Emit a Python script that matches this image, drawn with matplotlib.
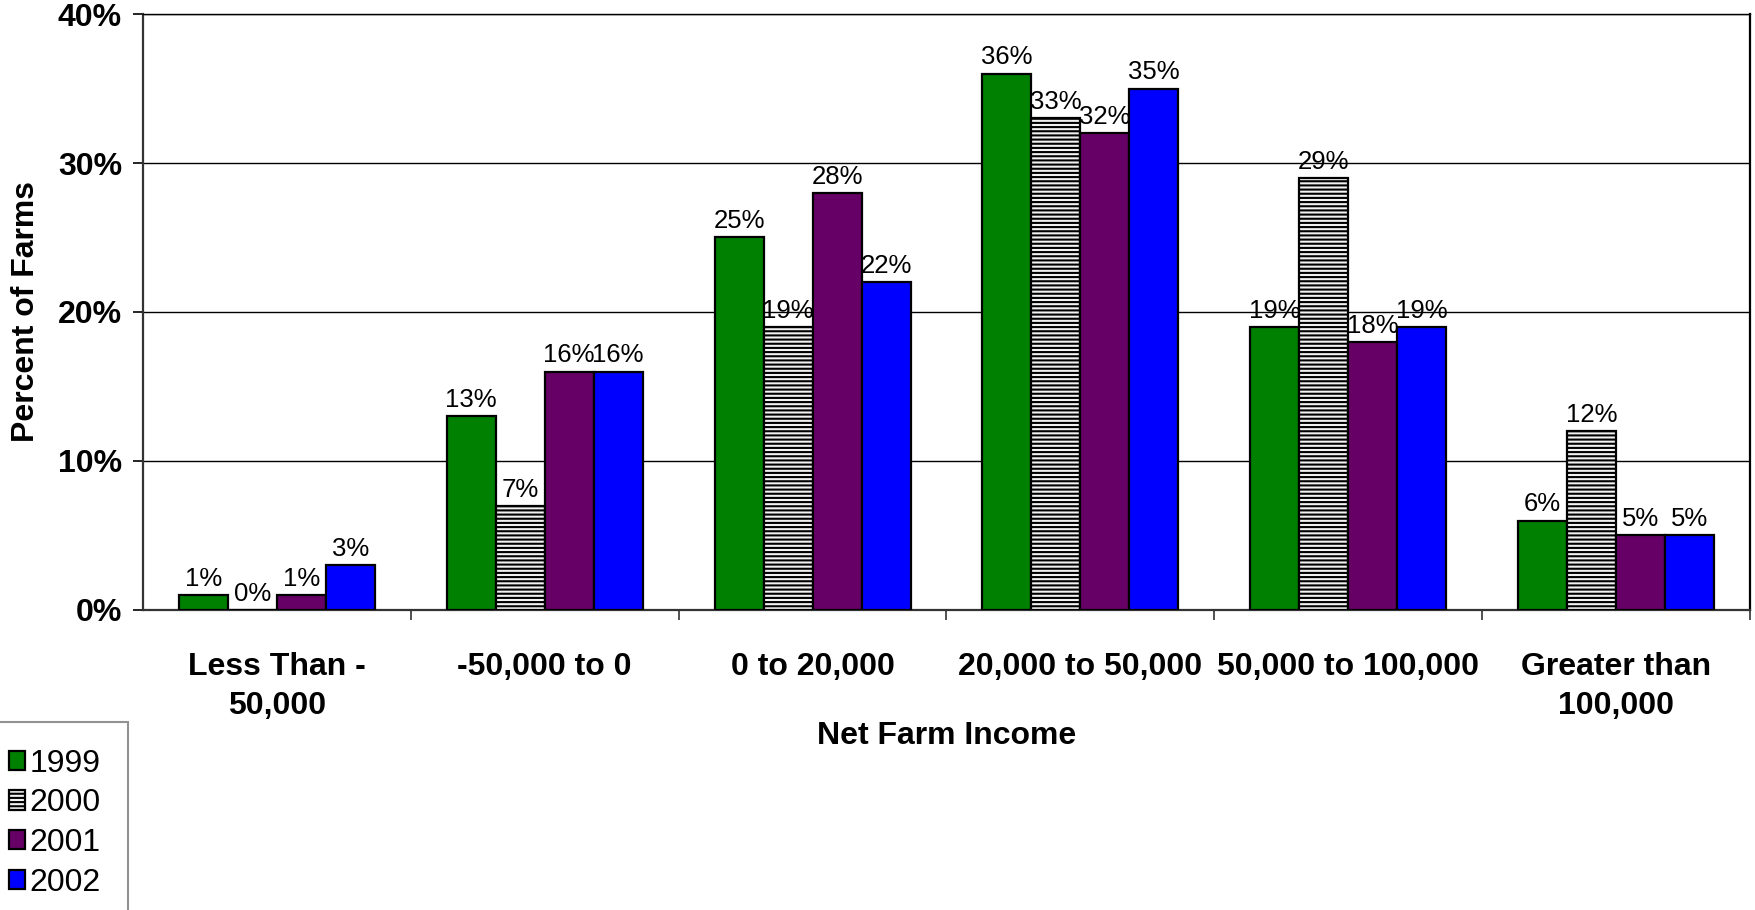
import matplotlib
matplotlib.use("Agg")
import matplotlib.pyplot as plt
import numpy as np
from matplotlib.patches import Patch

plt.rcParams['font.family'] = ['Liberation Sans', 'DejaVu Sans']
plt.rcParams['hatch.linewidth'] = 1.5
plt.rcParams['hatch.color'] = '#777777'

categories = ["Less Than -\n50,000", "-50,000 to 0", "0 to 20,000",
              "20,000 to 50,000", "50,000 to 100,000", "Greater than\n100,000"]
years = ["1999", "2000", "2001", "2002"]
pct_1999 = [1, 13, 25, 36, 19, 6]
pct_2000 = [0, 7, 19, 33, 29, 12]
pct_2001 = [1, 16, 28, 32, 18, 5]
pct_2002 = [3, 16, 22, 35, 19, 5]
series = [pct_1999, pct_2000, pct_2001, pct_2002]

face_colors = ["#008000", "#f2f2f2", "#660066", "#0000ff"]
hatches = [None, "----", None, None]

fig = plt.figure(figsize=(17.56, 9.10), dpi=100)
ax = fig.add_axes([0.0814, 0.3297, 0.9152, 0.6549])

x = np.arange(len(categories))
bw = 0.183
for i, (vals, fc, h) in enumerate(zip(series, face_colors, hatches)):
    pos = x + (i - 1.5) * bw
    ax.bar(pos, vals, width=bw, color=fc, edgecolor='black', linewidth=1.6,
           hatch=h, zorder=3)
    for px, v in zip(pos, vals):
        ax.annotate(f"{v}%", (px, v), xytext=(0, 3), textcoords='offset points',
                    ha='center', va='bottom', fontsize=18.5, zorder=4)

ax.set_xlim(-0.5, len(categories) - 0.5)
ax.set_ylim(0, 40)
ax.set_yticks([0, 10, 20, 30, 40])
ax.set_yticklabels([f"{t}%" for t in [0, 10, 20, 30, 40]], fontsize=23, fontweight='bold')
ax.yaxis.grid(True, color='black', linewidth=1.0, zorder=0)
ax.tick_params(axis='y', length=7, width=1.2, pad=8)

ax.set_xticks(x)
ax.set_xticklabels(categories, fontsize=23, fontweight='bold', linespacing=1.4)
ax.tick_params(axis='x', which='major', length=0, pad=30)
ax.set_xticks(np.arange(0.5, len(categories) - 0.5 + 1, 1), minor=True)
ax.tick_params(axis='x', which='minor', length=7, width=1.2, color='#333333')

for side in ['left', 'bottom']:
    ax.spines[side].set_color('#333333')
    ax.spines[side].set_linewidth(1.6)
ax.spines['right'].set_color('black')
ax.spines['right'].set_linewidth(1.6)
ax.spines['top'].set_color('black')
ax.spines['top'].set_linewidth(1.0)

ax.set_xlabel("Net Farm Income", fontsize=23, fontweight='bold', labelpad=0)
ax.set_ylabel("Percent of Farms", fontsize=23, fontweight='bold', labelpad=12)

handles = [Patch(facecolor=fc, edgecolor='black', linewidth=1.6, hatch=h)
           for fc, h in zip(face_colors, hatches)]
leg = fig.legend(handles, years, loc='upper left', bbox_to_anchor=(-0.0103, 0.207),
                 fontsize=23, frameon=True, fancybox=False, handlelength=0.5,
                 handleheight=0.55, handletextpad=0.15, labelspacing=0.3,
                 borderpad=0.85, borderaxespad=0)
leg.get_frame().set_edgecolor('#777777')
leg.get_frame().set_linewidth(1.5)

fig.savefig("out.png", dpi=100)
